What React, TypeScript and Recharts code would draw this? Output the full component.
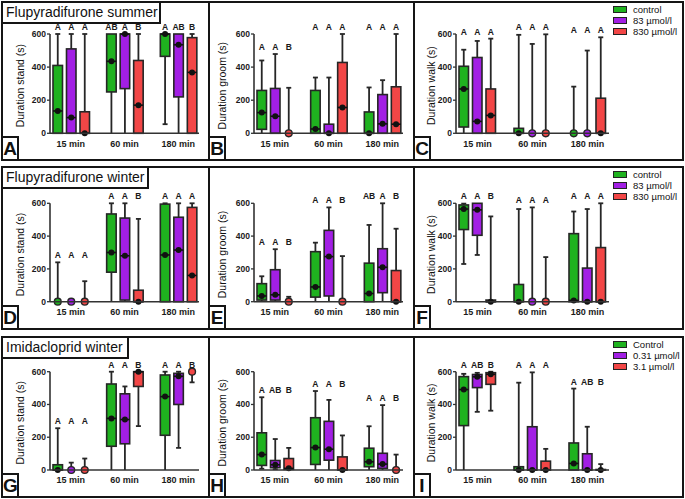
import React from 'react';
import { ComposedChart, Bar, XAxis, YAxis, Label } from 'recharts';

const times = ['15 min', '60 min', '180 min'];

// each entry: [min, q1, median, q3, max] for 15 / 60 / 180 min
const standSummerControl = [[0, 0, 135, 410, 600], [0, 250, 435, 600, 600], [55, 465, 600, 600, 600]];
const standSummerMid = [[0, 0, 95, 510, 600], [0, 270, 600, 600, 600], [0, 220, 535, 600, 600]];
const standSummerHigh = [[0, 0, 0, 130, 600], [0, 0, 170, 440, 600], [0, 0, 368, 578, 600]];
const standSummerLetters = [['A', 'A', 'A'], ['AB', 'A', 'B'], ['A', 'AB', 'B']];

const groomSummerControl = [[0, 24, 125, 259, 440], [0, 0, 26, 259, 337], [0, 0, 0, 129, 277]];
const groomSummerMid = [[0, 0, 103, 271, 479], [0, 0, 0, 55, 337], [0, 0, 57, 234, 321]];
const groomSummerHigh = [[0, 0, 0, 0, 275], [0, 0, 156, 428, 600], [0, 0, 55, 281, 600]];
const groomSummerLetters = [['A', 'A', 'B'], ['A', 'A', 'A'], ['A', 'A', 'A']];

const walkSummerControl = [[0, 38, 268, 405, 505], [0, 0, 0, 30, 595], [0, 0, 0, 0, 282]];
const walkSummerMid = [[0, 0, 72, 458, 558], [0, 0, 0, 0, 540], [0, 0, 0, 0, 500]];
const walkSummerHigh = [[0, 0, 108, 268, 572], [0, 0, 0, 0, 598], [0, 0, 0, 212, 580]];
const walkSummerLetters = [['A', 'A', 'A'], ['A', 'A', 'A'], ['A', 'A', 'A']];

const standWinterControl = [[0, 0, 0, 0, 240], [0, 180, 300, 535, 600], [0, 0, 285, 595, 600]];
const standWinterMid = [[0, 0, 0, 0, 0], [0, 10, 280, 510, 600], [0, 0, 315, 515, 600]];
const standWinterHigh = [[0, 0, 0, 0, 125], [0, 0, 0, 70, 505], [0, 0, 160, 575, 600]];
const standWinterLetters = [['A', 'A', 'A'], ['A', 'A', 'B'], ['A', 'A', 'A']];

const groomWinterControl = [[0, 10, 35, 110, 155], [0, 28, 90, 305, 360], [0, 0, 50, 235, 468]];
const groomWinterMid = [[0, 10, 42, 195, 320], [0, 35, 275, 435, 575], [0, 55, 210, 323, 600]];
const groomWinterHigh = [[0, 0, 0, 0, 30], [0, 0, 0, 0, 278], [0, 0, 0, 190, 445]];
const groomWinterLetters = [['A', 'A', 'B'], ['A', 'A', 'B'], ['AB', 'A', 'B']];

const walkWinterControl = [[230, 440, 565, 590, 598], [0, 0, 0, 105, 565], [0, 0, 8, 415, 550]];
const walkWinterMid = [[285, 405, 560, 600, 600], [0, 0, 0, 0, 575], [0, 0, 0, 205, 565]];
const walkWinterHigh = [[0, 0, 0, 10, 520], [0, 0, 0, 0, 272], [0, 0, 0, 330, 600]];
const walkWinterLetters = [['A', 'A', 'B'], ['A', 'A', 'A'], ['A', 'A', 'A']];

const standImidaControl = [[0, 0, 0, 32, 255], [0, 145, 315, 525, 600], [0, 212, 448, 580, 600]];
const standImidaMid = [[0, 0, 0, 0, 45], [0, 160, 308, 465, 510], [135, 400, 572, 590, 600]];
const standImidaHigh = [[0, 0, 0, 0, 70], [268, 510, 600, 600, 600], [535, 600, 600, 600, 600]];
const standImidaLetters = [['A', 'A', 'A'], ['A', 'A', 'B'], ['A', 'A', 'B']];

const groomImidaControl = [[8, 28, 94, 227, 444], [0, 34, 137, 319, 482], [0, 20, 50, 133, 267]];
const groomImidaMid = [[5, 14, 32, 58, 189], [0, 60, 127, 297, 428], [0, 10, 36, 102, 396]];
const groomImidaHigh = [[0, 4, 10, 70, 135], [0, 0, 0, 80, 211], [0, 0, 0, 0, 94]];
const groomImidaLetters = [['A', 'AB', 'B'], ['A', 'A', 'B'], ['A', 'A', 'B']];

const walkImidaControl = [[0, 271, 491, 570, 587], [0, 0, 0, 20, 533], [0, 0, 40, 165, 497]];
const walkImidaMid = [[355, 503, 569, 583, 593], [0, 0, 0, 264, 596], [0, 0, 0, 99, 264]];
const walkImidaHigh = [[362, 523, 584, 594, 600], [0, 0, 0, 54, 129], [0, 0, 0, 3, 36]];
const walkImidaLetters = [['A', 'AB', 'B'], ['A', 'A', 'A'], ['A', 'AB', 'B']];

const flupLegend = ['control', '83 µmol/l', '830 µmol/l'];
const imidaLegend = ['Control', '0.31 µmol/l', '3.1 µmol/l'];

const COLORS = ['#1fb21f', '#a21fe4', '#f24646'];
const FONT = 'Arial, "Liberation Sans", sans-serif';
const Y_MAX = 600;
const YW = 36;

const cols = [
  { x0: 2, w: 207, axisX: 50, right: 199, labelGap: 30 },
  { x0: 209, w: 205, axisX: 254, right: 403, labelGap: 32 },
  { x0: 414, w: 269, axisX: 456, right: 609, labelGap: 25 },
];
const rowsGeo = [
  { y0: 2, h: 158, top: 34, bottom: 133.3 },
  { y0: 167, h: 162, top: 203.3, bottom: 301.7 },
  { y0: 337, h: 160, top: 371.7, bottom: 470 },
];

const panels = [
  { r: 0, c: 0, tag: 'A', ylabel: 'Duration stand (s)', data: [standSummerControl, standSummerMid, standSummerHigh], letters: standSummerLetters },
  { r: 0, c: 1, tag: 'B', ylabel: 'Duration groom (s)', data: [groomSummerControl, groomSummerMid, groomSummerHigh], letters: groomSummerLetters },
  { r: 0, c: 2, tag: 'C', ylabel: 'Duration walk (s)', data: [walkSummerControl, walkSummerMid, walkSummerHigh], letters: walkSummerLetters },
  { r: 1, c: 0, tag: 'D', ylabel: 'Duration stand (s)', data: [standWinterControl, standWinterMid, standWinterHigh], letters: standWinterLetters },
  { r: 1, c: 1, tag: 'E', ylabel: 'Duration groom (s)', data: [groomWinterControl, groomWinterMid, groomWinterHigh], letters: groomWinterLetters },
  { r: 1, c: 2, tag: 'F', ylabel: 'Duration walk (s)', data: [walkWinterControl, walkWinterMid, walkWinterHigh], letters: walkWinterLetters },
  { r: 2, c: 0, tag: 'G', ylabel: 'Duration stand (s)', data: [standImidaControl, standImidaMid, standImidaHigh], letters: standImidaLetters },
  { r: 2, c: 1, tag: 'H', ylabel: 'Duration groom (s)', data: [groomImidaControl, groomImidaMid, groomImidaHigh], letters: groomImidaLetters },
  { r: 2, c: 2, tag: 'I', ylabel: 'Duration walk (s)', data: [walkImidaControl, walkImidaMid, walkImidaHigh], letters: walkImidaLetters },
];

const titles = [
  { text: 'Flupyradifurone summer', w: 158 },
  { text: 'Flupyradifurone winter', w: 146 },
  { text: 'Imidacloprid winter', w: 126 },
];
const legends = [flupLegend, flupLegend, imidaLegend];

const INK = '#262626';

const BoxShape = (props: any) => {
  const { x, width, background, payload, series, color } = props;
  if (!background || !payload) return null;
  const [mn, q1, med, q3, mx] = payload.stats[series];
  const py = (v: number) => background.y + background.height * (1 - v / Y_MAX);
  const cx = x + width / 2;
  const groupMax = Math.max(...payload.stats.map((s: number[]) => s[4]));
  const hasBox = q3 > q1;
  return (
    <g>
      {mx > mn && <line x1={cx} x2={cx} y1={py(mx)} y2={py(mn)} stroke={INK} strokeWidth={1.8} />}
      {mx > q3 && <line x1={cx - 2.5} x2={cx + 2.5} y1={py(mx)} y2={py(mx)} stroke={INK} strokeWidth={1.8} />}
      {mn < q1 && mn > 0 && <line x1={cx - 2.5} x2={cx + 2.5} y1={py(mn)} y2={py(mn)} stroke={INK} strokeWidth={1.8} />}
      {hasBox && (
        <rect x={x} y={py(q3)} width={width} height={py(q1) - py(q3)} fill={color} stroke={INK} strokeWidth={1.6} />
      )}
      {hasBox ? (
        <g>
          <line x1={x} x2={x + width} y1={py(med)} y2={py(med)} stroke="#111" strokeWidth={1.6} />
          <circle cx={cx} cy={py(med)} r={3} fill="#111" />
        </g>
      ) : (
        <circle cx={cx} cy={py(med)} r={3.4} fill={color} stroke={INK} strokeWidth={1.4} />
      )}
      <text x={cx} y={py(groupMax) - 4} textAnchor="middle" fontSize={8.5} fontWeight="bold" fontFamily={FONT} fill="#1a1a1a">
        {payload.letters[series]}
      </text>
    </g>
  );
};

const Panel = ({ p }: { p: any }) => {
  const col = cols[p.c];
  const row = rowsGeo[p.r];
  const data = times.map((t, i) => ({
    time: t,
    stats: [p.data[0][i], p.data[1][i], p.data[2][i]],
    letters: p.letters[i],
  }));
  const XH = 22;
  const margin = {
    top: row.top - row.y0,
    left: col.axisX - col.x0 - YW,
    right: col.x0 + col.w - col.right,
    bottom: row.y0 + row.h - row.bottom - XH,
  };
  return (
    <div style={{ position: 'absolute', left: col.x0, top: row.y0 }}>
      <ComposedChart width={col.w} height={row.h} data={data} margin={margin} barSize={9.5} barGap={4}>
        <XAxis
          dataKey="time"
          height={XH}
          padding={{ left: -6, right: -6 }}
          axisLine={{ stroke: '#333', strokeWidth: 1.6 }}
          tickLine={false}
          tickSize={5}
          tickMargin={2}
          tick={{ fontSize: 9, fontWeight: 'bold', fontFamily: FONT, fill: '#1a1a1a' }}
        />
        <YAxis
          width={YW}
          domain={[0, Y_MAX]}
          ticks={[0, 200, 400, 600]}
          axisLine={{ stroke: '#333', strokeWidth: 1.6 }}
          tickLine={{ stroke: '#333', strokeWidth: 1.3 }}
          tickSize={3}
          tickMargin={1}
          tick={{ fontSize: 8.5, fontWeight: 'bold', fontFamily: FONT, fill: '#1a1a1a' }}
        >
          <Label
            content={(lp: any) => {
              const vb = lp.viewBox || { x: 0, y: 0, width: 0, height: 0 };
              const cx = vb.x + vb.width - col.labelGap;
              const cy = vb.y + vb.height / 2 + 2;
              return (
                <text x={cx} y={cy} transform={`rotate(-90 ${cx} ${cy})`} textAnchor="middle" dominantBaseline="central" fontSize={10.5} fontFamily={FONT} fill="#111">
                  {p.ylabel}
                </text>
              );
            }}
          />
        </YAxis>
        {[0, 1, 2].map((k) => (
          <Bar
            key={k}
            dataKey={(d: any) => [d.stats[k][1], d.stats[k][3]]}
            isAnimationActive={false}
            shape={(sp: any) => <BoxShape {...sp} series={k} color={COLORS[k]} />}
          />
        ))}
      </ComposedChart>
    </div>
  );
};

export default function App() {
  return (
    <div style={{ position: 'absolute', left: 0, top: 0, width: 685, height: 499, background: '#fff', fontFamily: FONT, overflow: 'hidden' }}>
      {rowsGeo.map((row, i) => (
        <div key={`row${i}`} style={{ position: 'absolute', left: 1, top: row.y0 - 1, width: 683, height: row.h + 2, border: '2px solid #151515', boxSizing: 'border-box' }} />
      ))}
      {panels.map((p) => (
        <Panel key={p.tag} p={p} />
      ))}
      {rowsGeo.map((row, i) => (
        <React.Fragment key={`dec${i}`}>
          {[cols[1].x0, cols[2].x0].map((x) => (
            <div key={x} style={{ position: 'absolute', left: x - 1, top: row.y0, width: 2, height: row.h, background: '#151515' }} />
          ))}
          <div style={{ position: 'absolute', left: 1, top: row.y0 - 1, width: titles[i].w + 2, height: 23, border: '2px solid #151515', boxSizing: 'border-box', background: '#fff', fontSize: 14, lineHeight: '19px', paddingLeft: 3, color: '#111', whiteSpace: 'nowrap' }}>
            {titles[i].text}
          </div>
          {legends[i].map((name, k) => (
            <div key={name} style={{ position: 'absolute', left: 613, top: row.y0 + 2 + k * 11, height: 11, display: 'flex', alignItems: 'center' }}>
              <div style={{ width: 14, height: 7, background: COLORS[k], border: '1.5px solid #222', boxSizing: 'border-box' }} />
              <span style={{ marginLeft: 6, fontSize: 9.5, color: '#111', whiteSpace: 'nowrap' }}>{name}</span>
            </div>
          ))}
        </React.Fragment>
      ))}
      {panels.map((p) => {
        const col = cols[p.c];
        const row = rowsGeo[p.r];
        return (
          <div key={`tag${p.tag}`} style={{ position: 'absolute', left: col.x0 - 1, top: row.y0 + row.h - 24, width: 18, height: 25, border: '2px solid #151515', boxSizing: 'border-box', background: '#fff', fontSize: 19, fontWeight: 'bold', lineHeight: '21px', textAlign: 'center', color: '#111' }}>
            {p.tag}
          </div>
        );
      })}
    </div>
  );
}
